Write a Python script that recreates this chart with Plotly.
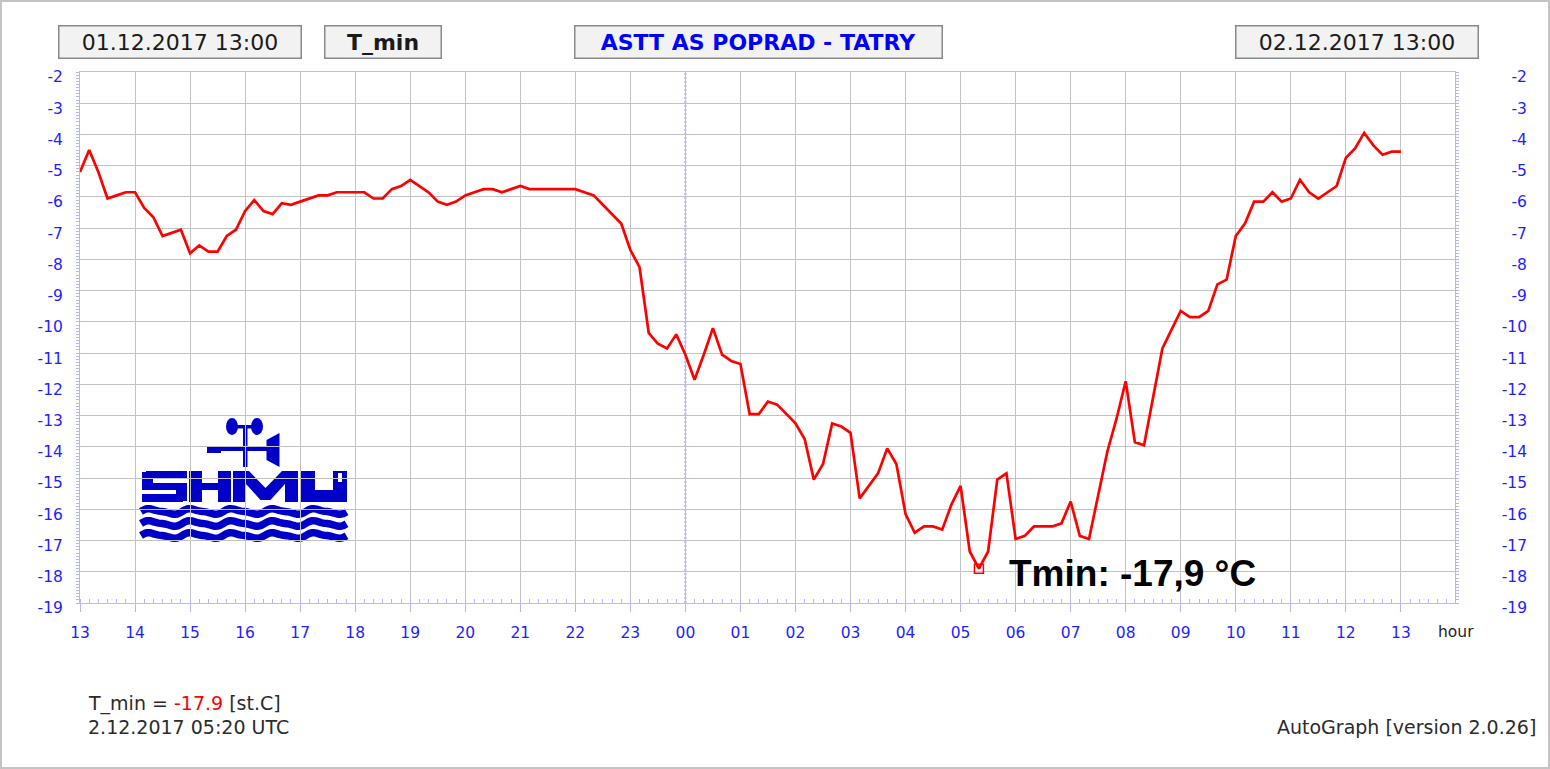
import math
import pandas as pd
import plotly.graph_objects as go

# ---------------- data ----------------
start_time = "2017-12-01 13:00"
date_from_label = "01.12.2017 13:00"
date_to_label = "02.12.2017 13:00"
variable_name = "T_min"
station_name = "ASTT AS POPRAD - TATRY"
unit_label = "st.C"
footer_time = "2.12.2017 05:20 UTC"
version_label = "AutoGraph [version 2.0.26]"

# 10-minute values, 01.12 13:00 ... 02.12 13:00
temps_13_17 = [-5.2, -4.5, -5.2, -6.05, -5.95, -5.85,
               -5.85, -6.35, -6.65, -7.25, -7.15, -7.05,
               -7.8, -7.55, -7.75, -7.75, -7.25, -7.05,
               -6.45, -6.1, -6.45, -6.55, -6.2, -6.25]
temps_17_21 = [-6.15, -6.05, -5.95, -5.95, -5.85, -5.85,
               -5.85, -5.85, -6.05, -6.05, -5.75, -5.65,
               -5.45, -5.65, -5.85, -6.15, -6.25, -6.15,
               -5.95, -5.85, -5.75, -5.75, -5.85, -5.75]
temps_21_01 = [-5.65, -5.75, -5.75, -5.75, -5.75, -5.75,
               -5.75, -5.85, -5.95, -6.25, -6.55, -6.85,
               -7.7, -8.25, -10.35, -10.7, -10.85, -10.4,
               -11.05, -11.85, -11.05, -10.2, -11.05, -11.25]
temps_01_05 = [-11.35, -12.95, -12.95, -12.55, -12.65, -12.95,
               -13.25, -13.75, -15.05, -14.55, -13.25, -13.35,
               -13.55, -15.65, -15.25, -14.85, -14.05, -14.55,
               -16.15, -16.75, -16.55, -16.55, -16.65, -15.85]
temps_05_09 = [-15.25, -17.35, -17.9, -17.35, -15.05, -14.85,
               -16.95, -16.85, -16.55, -16.55, -16.55, -16.45,
               -15.75, -16.85, -16.95, -15.55, -14.15, -13.1,
               -11.9, -13.85, -13.95, -12.4, -10.85, -10.25]
temps_09_13 = [-9.65, -9.85, -9.85, -9.65, -8.8, -8.65,
               -7.25, -6.85, -6.15, -6.15, -5.85, -6.15,
               -6.05, -5.45, -5.85, -6.05, -5.85, -5.65,
               -4.75, -4.45, -3.95, -4.35, -4.65, -4.55,
               -4.55]
temps = temps_13_17 + temps_17_21 + temps_21_01 + temps_01_05 + temps_05_09 + temps_09_13
times = pd.date_range(start_time, periods=len(temps), freq="10min")

y_min, y_max = -19, -2
y_tickvals = list(range(-19, -1))
y_ticktext = [str(v) for v in y_tickvals]

# ---------------- geometry helpers ----------------
W, H = 1550, 769
ML, MR, MT, MB = 80, 20, 72, 166
PW, PH = W - ML - MR, H - MT - MB
X_RIGHT = 1455  # right edge of the plotting frame (px)


def px(x):
    return (x - ML) / PW


def py(y):
    return (H - MB - y) / PH


AXIS_BLUE = "#1e1eff"
TICK_BLUE = "#b4b4ff"
GRID = "#c2c2c2"
LOGO = "#0000c8"
FONT = "DejaVu Sans"

i_min = min(range(len(temps)), key=lambda k: temps[k])
t_min, v_min = times[i_min], temps[i_min]

fig = go.Figure()
fig.add_trace(go.Scatter(x=times, y=temps, mode="lines",
                         line=dict(color="#ff0000", width=2.7),
                         hoverinfo="x+y", showlegend=False))
fig.add_trace(go.Scatter(x=[t_min], y=[v_min], mode="markers",
                         marker=dict(symbol="square-open", size=9, color="#ff0000",
                                     line=dict(width=1.5, color="#ff0000")),
                         showlegend=False, hoverinfo="skip"))
fig.add_trace(go.Scatter(x=times, y=temps, mode="lines", yaxis="y2",
                         line=dict(width=0, color="rgba(0,0,0,0)"),
                         showlegend=False, hoverinfo="skip"))

midnight = times[0].normalize() + pd.Timedelta(days=1)

shapes = []
# midnight dotted line (white underlay hides the grey grid line)
shapes.append(dict(type="line", xref="x", yref="paper", x0=midnight, x1=midnight,
                   y0=0, y1=1, line=dict(color="white", width=2), layer="between"))
shapes.append(dict(type="line", xref="x", yref="paper", x0=midnight, x1=midnight,
                   y0=0, y1=1, line=dict(color="#6868ff", width=1.6, dash="2px,2px"),
                   layer="between"))


def rect(x0, y0, x1, y1, color=LOGO):
    return dict(type="rect", xref="paper", yref="paper", x0=px(x0), x1=px(x1),
                y0=py(y1), y1=py(y0), fillcolor=color, line=dict(width=0),
                layer="between")


def poly(points, color=LOGO):
    d = "M " + " L ".join(f"{px(a):.5f},{py(b):.5f}" for a, b in points) + " Z"
    return dict(type="path", xref="paper", yref="paper", path=d, fillcolor=color,
                line=dict(width=0), layer="between")


# ---- SHMU logo ----
T, B = 471, 502
# S
x0, x1 = 142, 187
shapes += [rect(x0 + 4, T, x1, T + 8), rect(x0, T + 1, x0 + 11, 490),
           rect(x0, 483, x1, 490), rect(x1 - 11, 483, x1, B - 1), rect(x0, 494, x1 - 4, B)]
# H
x0, x1 = 189, 231
shapes += [rect(x0, T, x0 + 13, B), rect(x1 - 13, T, x1, B), rect(x0, 483, x1, 490)]
# M
x0, x1 = 233, 298
xm = (x0 + x1) / 2
shapes.append(poly([(x0, B), (x0, T), (x0 + 16, T), (xm, T + 17), (x1 - 16, T), (x1, T),
                    (x1, B), (x1 - 13, B), (x1 - 13, T + 13), (xm + 5, B - 2),
                    (xm - 5, B - 2), (x0 + 13, T + 13), (x0 + 13, B)]))
# U (Ú)
x0, x1 = 301, 347
shapes += [rect(x0, T, x0 + 14, B), rect(x1 - 14, T, x1, B), rect(x0, 490, x1, B),
           rect(x1 - 9, T + 2, x1 - 5, T + 11, "white")]
# weather vane
shapes += [rect(210, 447, 268, 451), rect(207, 446, 221, 453), rect(243, 428, 247.5, 467),
           rect(232, 425, 258, 428.5)]
shapes.append(dict(type="circle", xref="paper", yref="paper", x0=px(226), x1=px(238),
                   y0=py(435), y1=py(418), fillcolor=LOGO, line=dict(width=0), layer="between"))
shapes.append(dict(type="circle", xref="paper", yref="paper", x0=px(251), x1=px(263),
                   y0=py(435), y1=py(418), fillcolor=LOGO, line=dict(width=0), layer="between"))
shapes.append(poly([(266.5, 440), (279.5, 433), (279.5, 467), (266.5, 460)]))
# waves
for yc in (511.5, 523.5, 535.5):
    pts = []
    xs = 141.0
    while xs <= 347.0:
        th = 2 * math.pi * (xs - 141) / 41.2
        pts.append((xs, yc - 2.4 * math.sin(th) - 0.8 * math.sin(2 * th)))
        xs += 1.5
    d = "M " + " L ".join(f"{px(a):.5f},{py(b):.5f}" for a, b in pts)
    shapes.append(dict(type="path", xref="paper", yref="paper", path=d,
                       line=dict(color=LOGO, width=7.5), layer="between"))

# outer image frame
shapes.append(dict(type="rect", xref="paper", yref="paper", x0=px(1), x1=px(1549),
                   y0=py(768), y1=py(1), line=dict(color="#c4c4c4", width=2),
                   fillcolor="rgba(0,0,0,0)", layer="below"))

annotations = []


def header_box(text, xl, xr, color="#1a1a1a"):
    annotations.append(dict(
        text=text, xref="paper", yref="paper", x=px((xl + xr) / 2), y=py(42),
        xanchor="center", yanchor="middle", showarrow=False,
        width=xr - xl - 3, height=31, align="center", valign="middle",
        bgcolor="#f2f2f2", bordercolor="#8a8a8a", borderwidth=1.5, borderpad=0,
        font=dict(family=FONT, size=22, color=color)))


header_box(date_from_label, 58, 302)
header_box(f"<b>{variable_name}</b>", 324, 442)
header_box(f"<b>{station_name}</b>", 574, 943, color="#0000ff")
header_box(date_to_label, 1235, 1479)

tmin_txt = f"{v_min:.1f}".replace(".", ",")
annotations.append(dict(text=f"<b>Tmin: {tmin_txt} °C</b>", xref="x", yref="y",
                        x=t_min, y=v_min, xanchor="left", yanchor="middle",
                        xshift=28, yshift=-5, showarrow=False,
                        font=dict(family="Liberation Sans", size=37, color="black")))

annotations.append(dict(text="hour", xref="paper", yref="paper", x=px(1456), y=py(632),
                        xanchor="center", yanchor="middle", showarrow=False,
                        font=dict(family=FONT, size=15.5, color="#222222")))
annotations.append(dict(
    text=f"{variable_name} = <span style='color:#ff0000'>{v_min:.1f}</span> [{unit_label}]",
    xref="paper", yref="paper", x=px(86), y=py(703), xanchor="left", yanchor="middle",
    showarrow=False, font=dict(family=FONT, size=19, color="#2b2b2b")))
annotations.append(dict(text=footer_time, xref="paper", yref="paper", x=px(86), y=py(727),
                        xanchor="left", yanchor="middle", showarrow=False,
                        font=dict(family=FONT, size=19, color="#2b2b2b")))
annotations.append(dict(text=version_label, xref="paper", yref="paper", x=px(1538),
                        y=py(727), xanchor="right", yanchor="middle", showarrow=False,
                        font=dict(family=FONT, size=19, color="#2b2b2b")))

tick_font = dict(family=FONT, size=15.5, color=AXIS_BLUE)

fig.update_layout(
    width=W, height=H, autosize=False,
    margin=dict(l=ML, r=MR, t=MT, b=MB, pad=0),
    paper_bgcolor="white", plot_bgcolor="white",
    showlegend=False,
    xaxis=dict(
        type="date", domain=[0, (X_RIGHT - ML) / PW],
        range=[times[0], times[-1] + pd.Timedelta(minutes=59)],
        tick0=times[0], dtick=3600000, tickformat="%H",
        showgrid=True, gridcolor=GRID, gridwidth=1.2,
        ticks="outside", ticklen=8, tickcolor=TICK_BLUE, tickwidth=1,
        tickfont=tick_font, ticklabelstandoff=7,
        minor=dict(dtick=600000, tick0=times[0], ticks="inside", ticklen=4,
                   tickcolor=TICK_BLUE, showgrid=False),
        showline=True, linecolor=GRID, linewidth=1, mirror=True,
        zeroline=False, automargin=False, fixedrange=True,
    ),
    yaxis=dict(
        range=[y_min, y_max], tickmode="array", tickvals=y_tickvals, ticktext=y_ticktext,
        showgrid=True, gridcolor=GRID, gridwidth=1.2,
        ticks="outside", ticklen=3, tickcolor=TICK_BLUE,
        minor=dict(dtick=0.1, tick0=y_min, ticks="outside", ticklen=3,
                   tickcolor=TICK_BLUE, showgrid=False),
        tickfont=tick_font, ticklabelshift=5, ticklabelstandoff=10,
        showline=True, linecolor=TICK_BLUE, linewidth=1, mirror="ticks",
        zeroline=False, automargin=False, fixedrange=True,
    ),
    yaxis2=dict(
        overlaying="y", anchor="free", position=1, side="left",
        range=[y_min, y_max], tickmode="array", tickvals=y_tickvals, ticktext=y_ticktext,
        showgrid=False, showline=False, zeroline=False, ticks="",
        tickfont=tick_font, ticklabelshift=5, ticklabelstandoff=3,
        automargin=False, fixedrange=True,
    ),
    shapes=shapes,
    annotations=annotations,
)

fig.write_html("out.html", config={"displayModeBar": False},
               post_script="document.body.style.margin='0';document.body.style.overflow='hidden';")
